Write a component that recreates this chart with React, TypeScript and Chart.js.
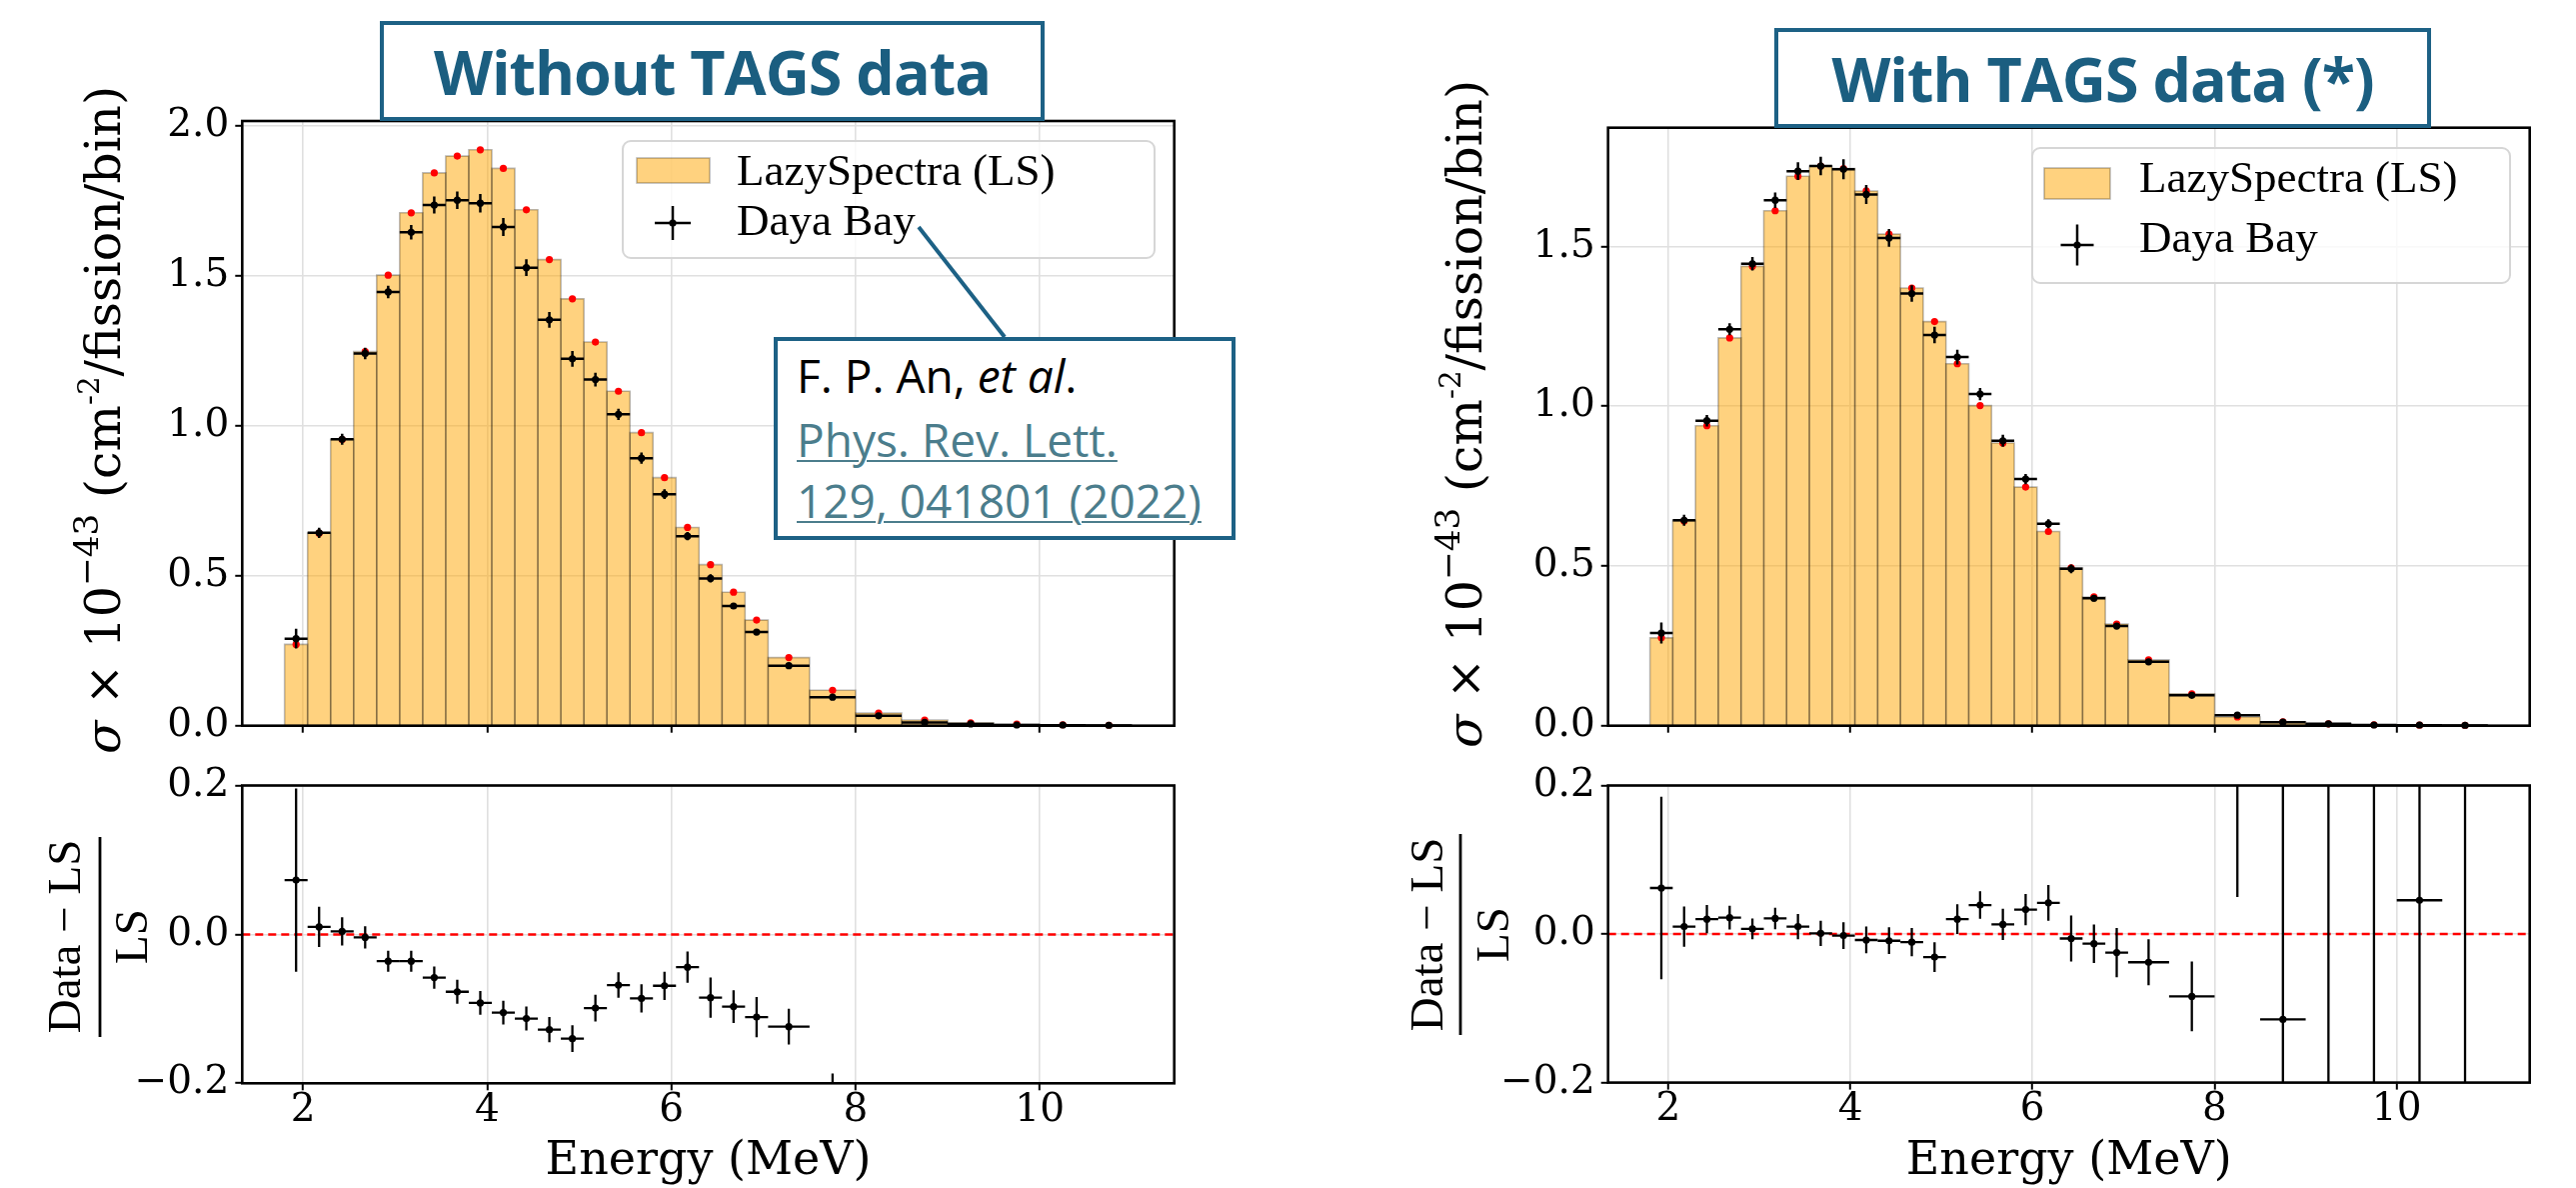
import React, { useEffect, useRef } from "react";
import { Chart, registerables } from "chart.js";

Chart.register(...registerables);

// ---------------- data ----------------
const binEdges = [
  1.8, 2.05, 2.3, 2.55, 2.8, 3.05, 3.3, 3.55, 3.8, 4.05, 4.3, 4.55, 4.8, 5.05, 5.3,
  5.55, 5.8, 6.05, 6.3, 6.55, 6.8, 7.05, 7.5, 8.0, 8.5, 9.0, 9.5, 10.0, 10.5, 11.0,
];

// LazySpectra prediction without TAGS data (x1e-43 cm^2/fission/bin)
const lsWithoutTags = [
  0.271, 0.642, 0.954, 1.247, 1.502, 1.71, 1.843, 1.899, 1.92, 1.858, 1.72, 1.554,
  1.423, 1.279, 1.115, 0.977, 0.827, 0.661, 0.537, 0.445, 0.352, 0.227, 0.118, 0.042,
  0.019, 0.0097, 0.005, 0.003, 0.0015,
];

// LazySpectra prediction with TAGS data
const lsWithTags = [
  0.275, 0.641, 0.939, 1.214, 1.438, 1.612, 1.72, 1.752, 1.744, 1.674, 1.539, 1.37,
  1.265, 1.133, 1.002, 0.885, 0.747, 0.608, 0.494, 0.403, 0.318, 0.206, 0.1, 0.0273,
  0.012, 0.006, 0.003, 0.0015, 0.0008,
];

// Daya Bay measurement
const dayaBay = [
  0.29, 0.643, 0.955, 1.241, 1.446, 1.645, 1.736, 1.752, 1.742, 1.663, 1.527, 1.353,
  1.223, 1.154, 1.038, 0.892, 0.772, 0.632, 0.491, 0.399, 0.312, 0.2, 0.095, 0.033,
  0.011, 0.006, 0.002, 0.0016, 0.001,
];
const dayaBayErr = [
  0.033, 0.017, 0.018, 0.019, 0.021, 0.024, 0.028, 0.029, 0.031, 0.03, 0.028, 0.026,
  0.026, 0.023, 0.019, 0.019, 0.016, 0.014, 0.014, 0.01, 0.0095, 0.0055, 0.005, 0.006,
  0.007, 0.006, 0.004, 0.003, 0.002,
];

// (Data - LS) / LS, without TAGS
const ratioWithoutTags = [
  0.073, 0.01, 0.004, -0.004, -0.036, -0.036, -0.058, -0.077, -0.092, -0.105, -0.113,
  -0.128, -0.14, -0.099, -0.068, -0.086, -0.069, -0.044, -0.085, -0.097, -0.111,
  -0.124, -0.22,
];
const ratioWithoutTagsErr = [
  0.123, 0.027, 0.019, 0.015, 0.014, 0.014, 0.015, 0.016, 0.016, 0.016, 0.016, 0.017,
  0.018, 0.018, 0.017, 0.019, 0.019, 0.021, 0.027, 0.022, 0.027, 0.024, 0.033,
];

// (Data - LS) / LS, with TAGS
const ratioWithTags = [
  0.062, 0.01, 0.02, 0.022, 0.007, 0.021, 0.01, 0.001, -0.002, -0.008, -0.009, -0.011,
  -0.031, 0.02, 0.039, 0.013, 0.033, 0.042, -0.006, -0.013, -0.025, -0.038, -0.084,
  0.24, -0.115, 0.45, -0.4, 0.0455, 0.5,
];
const ratioWithTagsErr = [
  0.123, 0.027, 0.019, 0.016, 0.014, 0.0145, 0.017, 0.017, 0.018, 0.018, 0.018, 0.019,
  0.02, 0.02, 0.0185, 0.021, 0.021, 0.024, 0.031, 0.026, 0.033, 0.031, 0.047, 0.19,
  0.6, 1.0, 0.9, 0.8, 1.2,
];

const xTicks = [2, 4, 6, 8, 10];
const yTicksWithout = [0, 0.5, 1.0, 1.5, 2.0];
const yTicksWith = [0, 0.5, 1.0, 1.5];
const yTicksRatio = [-0.2, 0, 0.2];

const X_MIN = 1.34;
const X_MAX = 11.46;
const Y_MAX_WITHOUT = 2.016;
const Y_MAX_WITH = 1.872;
const RATIO_MIN = -0.2;
const RATIO_MAX = 0.2;

// ---------------- derived tables ----------------
const binCenters = binEdges.slice(0, -1).map((e, i) => (e + binEdges[i + 1]) / 2);
const binHalfWidths = binEdges.slice(0, -1).map((e, i) => (binEdges[i + 1] - e) / 2);

const TEAL = "#1D6185";
const TICK_FONT = { family: "'DejaVu Serif'", size: 39, lineHeight: 1 };

type Pt = { x: number; y: number | null };

function histogramDatasets(values: number[]) {
  const fillPts = binEdges.map((e, i) => ({ x: e, y: values[Math.min(i, values.length - 1)] }));
  const outline = (parity: number) => {
    const pts: Pt[] = [];
    values.forEach((v, i) => {
      if (i % 2 !== parity) return;
      const a = binEdges[i];
      const b = binEdges[i + 1];
      pts.push({ x: a, y: 0 }, { x: a, y: v }, { x: b, y: v }, { x: b, y: 0 }, { x: b, y: null });
    });
    return pts;
  };
  return [
    {
      type: "line", data: fillPts, stepped: "before", fill: "origin",
      backgroundColor: "rgba(255,165,0,0.5)", borderColor: "rgba(0,0,0,0)", borderWidth: 0,
      pointRadius: 0, order: 10,
    },
    {
      type: "line", data: outline(0), borderColor: "rgba(0,0,0,0.27)", borderWidth: 1.6,
      pointRadius: 0, fill: false, spanGaps: false, order: 9,
    },
    {
      type: "line", data: outline(1), borderColor: "rgba(0,0,0,0.27)", borderWidth: 1.6,
      pointRadius: 0, fill: false, spanGaps: false, order: 8,
    },
  ];
}

function topDatasets(ls: number[]) {
  return [
    ...histogramDatasets(ls),
    {
      type: "scatter", label: "LS points",
      data: binCenters.map((x, i) => ({ x, y: ls[i] })),
      pointRadius: 3.6, backgroundColor: "#ff0000", borderWidth: 0, order: 3, clip: 3,
    },
    {
      type: "scatter", label: "Daya Bay",
      data: binCenters.map((x, i) => ({ x, y: dayaBay[i] })),
      errX: binHalfWidths, errY: dayaBayErr, errLineWidth: 2.5,
      pointRadius: 3.6, backgroundColor: "#000", borderWidth: 0, order: 1, clip: 3,
    },
  ];
}

function ratioDatasets(r: number[], err: number[]) {
  return [
    {
      type: "line", data: [{ x: X_MIN, y: 0 }, { x: X_MAX, y: 0 }],
      borderColor: "#ff0000", borderWidth: 2.5, borderDash: [8, 5], pointRadius: 0,
      fill: false, order: 5,
    },
    {
      type: "scatter", label: "ratio",
      data: r.map((y, i) => ({ x: binCenters[i], y })),
      errX: binHalfWidths.slice(0, r.length), errY: err, errLineWidth: 2.3,
      pointRadius: 3.6, backgroundColor: "#000", borderWidth: 0, order: 1, clip: 0,
    },
  ];
}

// ---------------- layout specs (page pixels) ----------------
type LegendSpec = {
  frame: { x: number; y: number; w: number; h: number };
  patch: { x: number; y: number; w: number; h: number };
  textX: number;
  baselines: number[];
  cross: { cx: number; cy: number; hx: number; hy: number };
};

type Spec = {
  box: { x: number; y: number; w: number; h: number };
  area: { l: number; t: number; r: number; b: number };
  yMin: number;
  yMax: number;
  yTicks: number[];
  showXLabels: boolean;
  xTitle: boolean;
  datasets: any[];
  legend?: LegendSpec;
  sigmaLabel?: { bx: number; cy: number };
  fracLabel?: { numX: number; lineX: number; denX: number; cy: number; y0: number; y1: number };
};

const specs: Spec[] = [
  {
    box: { x: 0, y: 40, w: 1200, h: 720 },
    area: { l: 242.3, t: 121, r: 1174.7, b: 725.7 },
    yMin: 0, yMax: Y_MAX_WITHOUT, yTicks: yTicksWithout, showXLabels: false, xTitle: false,
    datasets: topDatasets(lsWithoutTags),
    legend: {
      frame: { x: 623, y: 141, w: 532, h: 117 },
      patch: { x: 637, y: 158, w: 73, h: 25 },
      textX: 737, baselines: [185, 235],
      cross: { cx: 673, cy: 223, hx: 18, hy: 17 },
    },
    sigmaLabel: { bx: 120, cy: 420 },
  },
  {
    box: { x: 0, y: 760, w: 1200, h: 428 },
    area: { l: 242.3, t: 780.5, r: 1174.7, b: 1083.3 },
    yMin: RATIO_MIN, yMax: RATIO_MAX, yTicks: yTicksRatio, showXLabels: true, xTitle: true,
    datasets: ratioDatasets(ratioWithoutTags, ratioWithoutTagsErr),
    fracLabel: { numX: 80, lineX: 100, denX: 147, cy: 936.5, y0: 837, y1: 1037 },
  },
  {
    box: { x: 1300, y: 40, w: 1277, h: 720 },
    area: { l: 1608.7, t: 127.7, r: 2530.7, b: 725.7 },
    yMin: 0, yMax: Y_MAX_WITH, yTicks: yTicksWith, showXLabels: false, xTitle: false,
    datasets: topDatasets(lsWithTags),
    legend: {
      frame: { x: 2033, y: 148, w: 478, h: 135 },
      patch: { x: 2045, y: 168, w: 66, h: 31 },
      textX: 2140, baselines: [191.7, 251.7],
      cross: { cx: 2078, cy: 245, hx: 16.5, hy: 20.5 },
    },
    sigmaLabel: { bx: 1482, cy: 414 },
  },
  {
    box: { x: 1300, y: 760, w: 1277, h: 428 },
    area: { l: 1608.7, t: 784, r: 2530.7, b: 1082.6 },
    yMin: RATIO_MIN, yMax: RATIO_MAX, yTicks: yTicksRatio, showXLabels: true, xTitle: true,
    datasets: ratioDatasets(ratioWithTags, ratioWithTagsErr),
    fracLabel: { numX: 1442.6, lineX: 1461, denX: 1508.6, cy: 934.5, y0: 834, y1: 1035 },
  },
];

// ---------------- drawing helpers ----------------
type Seg = { text: string; font: string; dy?: number };

function drawRotated(ctx: CanvasRenderingContext2D, segs: Seg[], bx: number, cy: number) {
  ctx.save();
  ctx.translate(bx, cy);
  ctx.rotate(-Math.PI / 2);
  ctx.textBaseline = "alphabetic";
  ctx.textAlign = "left";
  ctx.fillStyle = "#000";
  const widths = segs.map((s) => {
    ctx.font = s.font;
    return ctx.measureText(s.text).width;
  });
  const total = widths.reduce((a, b) => a + b, 0);
  let x = -total / 2;
  segs.forEach((s, i) => {
    ctx.font = s.font;
    ctx.fillText(s.text, x, s.dy || 0);
    x += widths[i];
  });
  ctx.restore();
}

function decorPlugin(spec: Spec) {
  const ox = spec.box.x;
  const oy = spec.box.y;
  return {
    id: "decor",
    beforeDatasetDraw(chart: any, args: any) {
      const ds: any = chart.data.datasets[args.index];
      if (!ds.errY) return;
      const ctx: CanvasRenderingContext2D = chart.ctx;
      const xs = chart.scales.x;
      const ys = chart.scales.y;
      const a = chart.chartArea;
      ctx.save();
      ctx.beginPath();
      ctx.rect(a.left, a.top, a.right - a.left, a.bottom - a.top);
      ctx.clip();
      ctx.strokeStyle = "#000";
      ctx.lineWidth = ds.errLineWidth;
      ds.data.forEach((p: any, i: number) => {
        const x = xs.getPixelForValue(p.x);
        const y = ys.getPixelForValue(p.y);
        const x0 = xs.getPixelForValue(p.x - ds.errX[i]);
        const x1 = xs.getPixelForValue(p.x + ds.errX[i]);
        const y0 = ys.getPixelForValue(p.y - ds.errY[i]);
        const y1 = ys.getPixelForValue(p.y + ds.errY[i]);
        ctx.beginPath();
        ctx.moveTo(x0, y);
        ctx.lineTo(x1, y);
        ctx.moveTo(x, y0);
        ctx.lineTo(x, y1);
        ctx.stroke();
      });
      ctx.restore();
    },
    afterDatasetsDraw(chart: any) {
      const ctx: CanvasRenderingContext2D = chart.ctx;
      const L = spec.legend;
      if (L) {
        ctx.save();
        ctx.beginPath();
        (ctx as any).roundRect(L.frame.x - ox, L.frame.y - oy, L.frame.w, L.frame.h, 8);
        ctx.fillStyle = "rgba(255,255,255,0.8)";
        ctx.fill();
        ctx.strokeStyle = "#d6d6d6";
        ctx.lineWidth = 2;
        ctx.stroke();
        ctx.fillStyle = "rgba(255,165,0,0.5)";
        ctx.fillRect(L.patch.x - ox, L.patch.y - oy, L.patch.w, L.patch.h);
        ctx.strokeStyle = "rgba(0,0,0,0.27)";
        ctx.lineWidth = 1.6;
        ctx.strokeRect(L.patch.x - ox, L.patch.y - oy, L.patch.w, L.patch.h);
        const cx = L.cross.cx - ox;
        const cy = L.cross.cy - oy;
        ctx.strokeStyle = "#000";
        ctx.lineWidth = 2.5;
        ctx.beginPath();
        ctx.moveTo(cx - L.cross.hx, cy);
        ctx.lineTo(cx + L.cross.hx, cy);
        ctx.moveTo(cx, cy - L.cross.hy);
        ctx.lineTo(cx, cy + L.cross.hy);
        ctx.stroke();
        ctx.beginPath();
        ctx.arc(cx, cy, 3.6, 0, Math.PI * 2);
        ctx.fillStyle = "#000";
        ctx.fill();
        ctx.font = "45px 'Liberation Serif'";
        ctx.textBaseline = "alphabetic";
        ctx.textAlign = "left";
        ctx.fillText("LazySpectra (LS)", L.textX - ox, L.baselines[0] - oy);
        ctx.fillText("Daya Bay", L.textX - ox, L.baselines[1] - oy);
        ctx.restore();
      }
      if (spec.sigmaLabel) {
        const S = 49;
        const f = (px: number) => `${px}px 'DejaVu Serif'`;
        drawRotated(
          ctx,
          [
            { text: "σ", font: `italic ${f(S)}` },
            { text: " × 10", font: f(S) },
            { text: "−43", font: f(S * 0.7), dy: -S * 0.45 },
            { text: " (cm", font: f(S) },
            { text: "-2", font: f(S * 0.6), dy: -S * 0.42 },
            { text: "/fission/bin)", font: f(S) },
          ],
          spec.sigmaLabel.bx - ox,
          spec.sigmaLabel.cy - oy
        );
      }
      if (spec.fracLabel) {
        const F = spec.fracLabel;
        const font = "47px 'Liberation Serif'";
        drawRotated(ctx, [{ text: "Data − LS", font }], F.numX - ox, F.cy - oy);
        drawRotated(ctx, [{ text: "LS", font }], F.denX - ox, F.cy - oy);
        ctx.save();
        ctx.strokeStyle = "#000";
        ctx.lineWidth = 2.8;
        ctx.beginPath();
        ctx.moveTo(F.lineX - ox, F.y0 - oy);
        ctx.lineTo(F.lineX - ox, F.y1 - oy);
        ctx.stroke();
        ctx.restore();
      }
    },
    afterDraw(chart: any) {
      const ctx: CanvasRenderingContext2D = chart.ctx;
      const a = chart.chartArea;
      ctx.save();
      ctx.strokeStyle = "#000";
      ctx.lineWidth = 2.6;
      ctx.strokeRect(a.left, a.top, a.right - a.left, a.bottom - a.top);
      ctx.restore();
    },
  };
}

function fmtTick(v: number) {
  if (Math.abs(v) < 1e-9) return "0.0";
  const s = Math.abs(v).toFixed(1);
  return v < 0 ? "−" + s : s;
}

function buildConfig(spec: Spec): any {
  const { box, area } = spec;
  return {
    type: "scatter",
    data: { datasets: spec.datasets },
    plugins: [decorPlugin(spec)],
    options: {
      animation: false,
      responsive: false,
      maintainAspectRatio: false,
      devicePixelRatio: 1,
      events: [],
      layout: {
        padding: { left: 0, top: area.t - box.y, right: box.x + box.w - area.r, bottom: 0 },
      },
      plugins: {
        legend: { display: false },
        tooltip: { enabled: false },
        title: { display: false },
      },
      scales: {
        x: {
          type: "linear",
          position: "bottom",
          min: X_MIN,
          max: X_MAX,
          afterBuildTicks: (s: any) => {
            s.ticks = xTicks.map((v) => ({ value: v }));
          },
          afterFit: (s: any) => {
            s.height = box.y + box.h - area.b;
          },
          border: { display: false },
          grid: {
            color: "#e0e0e0", lineWidth: 1.6, drawTicks: true, tickLength: 7,
            tickColor: "#000", tickWidth: 2,
          },
          ticks: {
            display: spec.showXLabels, font: TICK_FONT, color: "#000", padding: 1,
            maxRotation: 0, autoSkip: false, callback: (v: number) => String(v),
          },
          title: {
            display: spec.xTitle,
            text: "Energy (MeV)",
            color: "#000",
            font: { family: "'DejaVu Serif'", size: 46, lineHeight: 1 },
            padding: { top: 0, bottom: 3 },
          },
        },
        y: {
          type: "linear",
          position: "left",
          min: spec.yMin,
          max: spec.yMax,
          afterBuildTicks: (s: any) => {
            s.ticks = spec.yTicks.map((v) => ({ value: v }));
          },
          afterFit: (s: any) => {
            s.width = area.l - box.x;
          },
          border: { display: false },
          grid: {
            color: "#e0e0e0", lineWidth: 1.6, drawTicks: true, tickLength: 7,
            tickColor: "#000", tickWidth: 2,
          },
          ticks: {
            font: TICK_FONT, color: "#000", padding: 6, autoSkip: false,
            callback: (v: number) => fmtTick(v),
          },
        },
      },
    },
  };
}

function Panel({ spec }: { spec: Spec }) {
  const ref = useRef<HTMLCanvasElement>(null);
  useEffect(() => {
    const chart = new Chart(ref.current as HTMLCanvasElement, buildConfig(spec));
    return () => chart.destroy();
  }, []);
  return (
    <canvas
      ref={ref}
      width={spec.box.w}
      height={spec.box.h}
      style={{
        position: "absolute", left: spec.box.x, top: spec.box.y,
        width: spec.box.w, height: spec.box.h,
      }}
    />
  );
}

const titleStyle = (left: number, top: number, width: number, height: number): React.CSSProperties => ({
  position: "absolute", left, top, width, height, boxSizing: "border-box",
  border: `4px solid ${TEAL}`, background: "#fff", display: "flex",
  alignItems: "center", justifyContent: "center", fontFamily: "'Open Sans'",
  fontWeight: 700, fontSize: 61, letterSpacing: -1, color: "#1B5E80",
  whiteSpace: "nowrap", lineHeight: 1,
});

const refLine = (top: number): React.CSSProperties => ({
  position: "absolute", left: 19, top, fontFamily: "'Open Sans'", fontSize: 46,
  lineHeight: "46px", whiteSpace: "nowrap",
});

export default function App() {
  return (
    <div
      style={{
        position: "absolute", left: 0, top: 0, width: 2577, height: 1188,
        background: "#fff", overflow: "hidden",
      }}
    >
      {specs.map((s, i) => (
        <Panel key={i} spec={s} />
      ))}
      <div style={titleStyle(380, 21, 665, 100)}>Without TAGS data</div>
      <div style={titleStyle(1775, 28, 657, 100)}>With TAGS data (*)</div>
      <svg
        width={2577}
        height={1188}
        style={{ position: "absolute", left: 0, top: 0, pointerEvents: "none" }}
      >
        <line x1={919} y1={227} x2={1005} y2={337} stroke={TEAL} strokeWidth={4} />
      </svg>
      <div
        style={{
          position: "absolute", left: 774, top: 337, width: 462, height: 203,
          boxSizing: "border-box", border: `4px solid ${TEAL}`, background: "#fff",
        }}
      >
        <div style={{ ...refLine(11), color: "#000" }}>
          F. P. An, <i>et al</i>.
        </div>
        <div
          style={{
            ...refLine(75), color: "#4B7D8C", textDecoration: "underline",
            textDecorationThickness: 2, textUnderlineOffset: 3,
          }}
        >
          Phys. Rev. Lett.
        </div>
        <div
          style={{
            ...refLine(136), color: "#4B7D8C", textDecoration: "underline",
            textDecorationThickness: 2, textUnderlineOffset: 3,
          }}
        >
          129, 041801 (2022)
        </div>
      </div>
    </div>
  );
}
